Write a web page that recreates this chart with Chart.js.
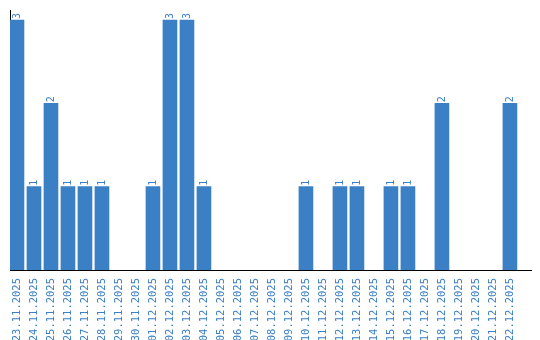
<!DOCTYPE html>
<html>
<head>
<meta charset="utf-8">
<script src="https://cdn.jsdelivr.net/npm/chart.js@4/dist/chart.umd.min.js"></script>
<style>
  html, body { margin: 0; padding: 0; background: #fff; }
  #wrap { width: 540px; height: 340px; }
</style>
</head>
<body>
<div id="wrap"><canvas id="chart" width="540" height="340"></canvas></div>
<script>
const dates = [
    '23.11.2025', '24.11.2025', '25.11.2025', '26.11.2025', '27.11.2025',
    '28.11.2025', '29.11.2025', '30.11.2025', '01.12.2025', '02.12.2025',
    '03.12.2025', '04.12.2025', '05.12.2025', '06.12.2025', '07.12.2025',
    '08.12.2025', '09.12.2025', '10.12.2025', '11.12.2025', '12.12.2025',
    '13.12.2025', '14.12.2025', '15.12.2025', '16.12.2025', '17.12.2025',
    '18.12.2025', '19.12.2025', '20.12.2025', '21.12.2025', '22.12.2025'
];
const counts = [3, 1, 2, 1, 1, 1, 0, 0, 1, 3, 3, 1, 0, 0, 0, 0, 0, 1, 0, 1, 1, 0, 1, 1, 0, 2, 0, 0, 0, 2];

const blue = '#3b7fc4';
const monoFont = '"DejaVu Sans Mono", "Liberation Mono", monospace';

// draw the value above each bar, rotated like the date labels
const valueLabels = {
    id: 'valueLabels',
    afterDatasetsDraw(chart) {
        const ctx = chart.ctx;
        const meta = chart.getDatasetMeta(0);
        ctx.save();
        ctx.fillStyle = blue;
        ctx.font = '10px ' + monoFont;
        ctx.textAlign = 'left';
        ctx.textBaseline = 'middle';
        meta.data.forEach((bar, i) => {
            if (!counts[i]) return;
            ctx.save();
            ctx.translate(bar.x, bar.y - 1);
            ctx.rotate(-Math.PI / 2);
            ctx.fillText(String(counts[i]), 0, 0);
            ctx.restore();
        });
        ctx.restore();
    }
};

new Chart(document.getElementById('chart'), {
    type: 'bar',
    data: {
        datasets: [{
            data: counts.map((v, i) => ({ x: i, y: v })),
            backgroundColor: counts.map(v => v ? blue : 'rgba(0,0,0,0)'),
            barThickness: 14
        }]
    },
    options: {
        responsive: false,
        animation: false,
        layout: { padding: { left: 10, right: 9, top: 10, bottom: 0 } },
        plugins: {
            legend: { display: false },
            tooltip: { enabled: false }
        },
        scales: {
            x: {
                type: 'linear',
                offset: false,
                min: -0.41,
                max: 30.24,
                grid: { display: false },
                border: { display: true, color: '#000', width: 1 },
                afterBuildTicks(scale) {
                    scale.ticks = dates.map((d, i) => ({ value: i }));
                },
                ticks: {
                    color: blue,
                    font: { family: monoFont, size: 10.5 },
                    minRotation: 90,
                    maxRotation: 90,
                    autoSkip: false,
                    padding: 0,
                    callback: (v) => dates[v]
                },
                afterFit(scale) { scale.height = 70; }
            },
            y: {
                min: 0,
                max: 3.12,
                grid: { display: false },
                border: { display: true, color: '#000', width: 1 },
                ticks: { display: false },
                afterFit(scale) { scale.width = 0; }
            }
        }
    },
    plugins: [valueLabels]
});
</script>
</body>
</html>
